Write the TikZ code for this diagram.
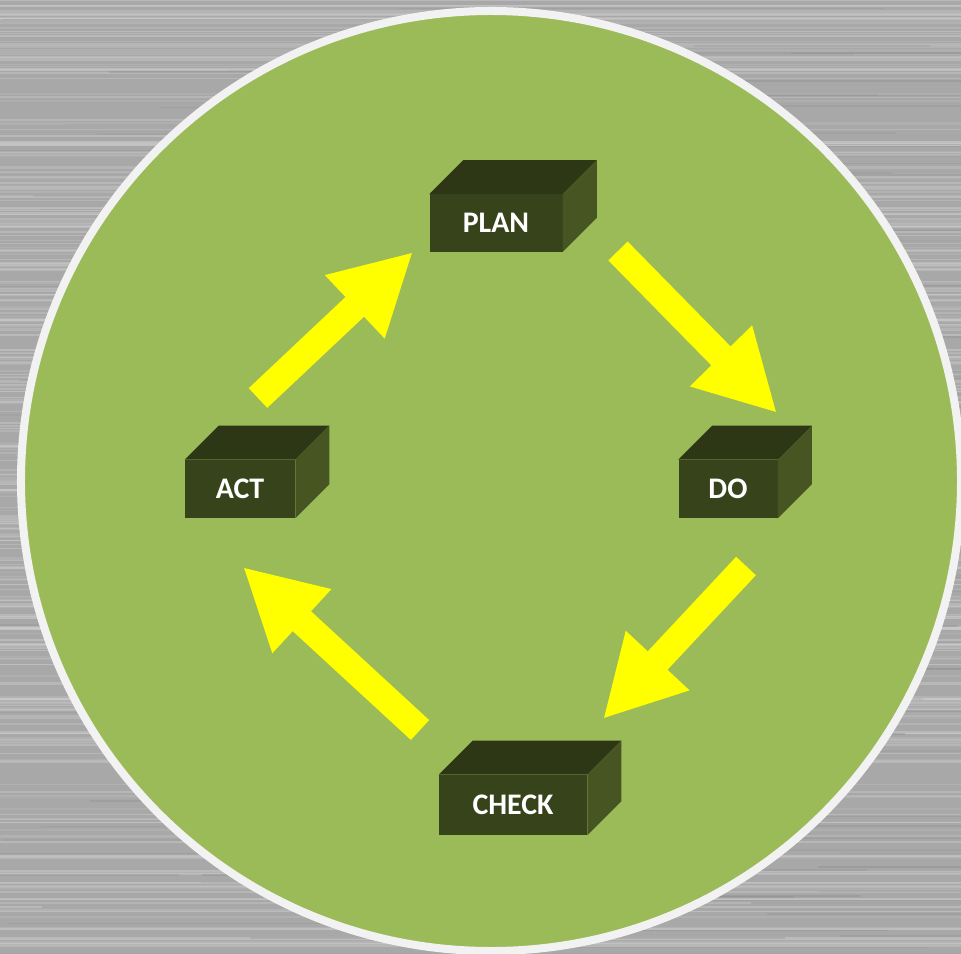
\documentclass[tikz,border=0pt]{standalone}
\usepackage{fontspec}
\setsansfont{Carlito}
\usetikzlibrary{arrows.meta}

\definecolor{metal}{HTML}{A8A8A8}
\definecolor{metallight}{HTML}{D2D2D2}
\definecolor{metaldark}{HTML}{8C8C8C}
\definecolor{leaf}{HTML}{9BBB59}
\definecolor{rim}{HTML}{F2F2F2}
\definecolor{boxfront}{HTML}{37441B}
\definecolor{boxtop}{HTML}{2D3716}
\definecolor{boxside}{HTML}{465522}
\definecolor{arrowyellow}{RGB}{255,255,0}

\tikzset{
  stage/.style={fill=boxfront, text=white, inner sep=0pt,
    font=\sffamily\bfseries\fontsize{17}{20}\selectfont},
  cycle arrow/.style={arrowyellow, line width=5.4mm,
    -{Triangle[length=16mm,width=16.2mm]}},
}
% top and right faces of a stage box
\newcommand{\boxfaces}[1]{%
  \fill[boxtop] (#1.north west) -- ++(34,-34) -- ([shift={(34,-34)}]#1.north east) -- (#1.north east) -- cycle;
  \fill[boxside] (#1.north east) -- ([shift={(34,-34)}]#1.north east) -- ([shift={(34,-34)}]#1.south east) -- (#1.south east) -- cycle;
}

\begin{document}
\begin{tikzpicture}[x=0.2mm,y=-0.2mm]
    \useasboundingbox (0,0) rectangle (961,954);
    \begin{scope}
        \clip (0,0) rectangle (961,954);
        % brushed metal
        \fill[metal] (0,0) rectangle (961,954);
        \pgfmathsetseed{11}
        \foreach \i in {1,...,320} {
            \pgfmathsetmacro{\yy}{rnd*954}
            \pgfmathsetmacro{\op}{0.15+0.3*rnd}
            \pgfmathsetmacro{\lw}{0.15+0.4*rnd}
            \draw[metallight, opacity=\op, line width=\lw mm] (0,\yy) -- (961,\yy);
        }
        \foreach \i in {1,...,160} {
            \pgfmathsetmacro{\yy}{rnd*954}
            \pgfmathsetmacro{\xx}{rnd*961-100}
            \pgfmathsetmacro{\op}{0.15+0.25*rnd}
            \draw[metaldark, opacity=\op, line width=0.3mm] (\xx,\yy) -- ++(200+400*rnd,0);
        }
        % green disc
        \fill[leaf] (491,481) circle (94mm);
        \draw[rim, line width=1.6mm] (491,481) circle (94mm);
    \end{scope}

    % stages
    \node[stage, minimum width=26.6mm, minimum height=11.4mm] (plan) at (496,223) {PLAN};
    \node[stage, minimum width=22mm, minimum height=11.6mm] (act) at (240,489) {ACT};
    \node[stage, minimum width=19.8mm, minimum height=11.6mm] (do) at (728,489) {DO};
    \node[stage, minimum width=29.6mm, minimum height=12mm] (check) at (513,805) {CHECK};
    \boxfaces{plan} \boxfaces{act} \boxfaces{do} \boxfaces{check}

    % arrow ends
    \coordinate (actout) at (258,398);   \coordinate (planin) at (413,252);
    \coordinate (planout) at (618,251);  \coordinate (doin) at (777,413);
    \coordinate (doout) at (746,566);    \coordinate (checkin) at (603,719);
    \coordinate (checkout) at (420,730); \coordinate (actin) at (243,567);

    \draw[cycle arrow] (actout) -- (planin);
    \draw[cycle arrow] (planout) -- (doin);
    \draw[cycle arrow] (doout) -- (checkin);
    \draw[cycle arrow] (checkout) -- (actin);
\end{tikzpicture}
\end{document}
